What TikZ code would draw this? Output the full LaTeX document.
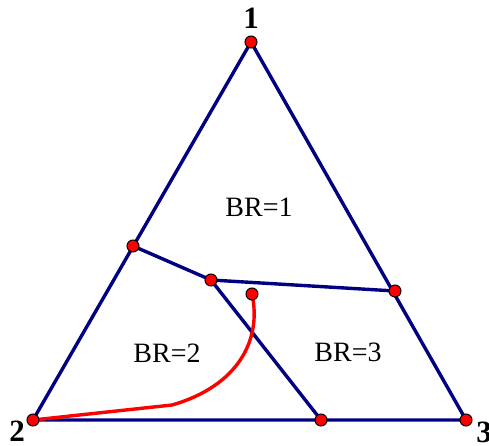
\documentclass[tikz,border=0pt]{standalone}
\usepackage{fontspec}
\setmainfont{Liberation Serif}
\begin{document}
\begin{tikzpicture}[x=1pt,y=-1pt,
  edge/.style={draw={rgb,255:red,0;green,0;blue,128},line width=3.4pt},
  redpath/.style={draw=red,line width=3.4pt},
  dot/.style={circle,fill=red,draw=black,line width=1pt,inner sep=0pt,minimum size=12pt},
  vlab/.style={font=\fontsize{31}{33}\selectfont\bfseries,inner sep=1pt},
  rlab/.style={font=\fontsize{28}{30}\selectfont}]
\useasboundingbox (0,0) rectangle (489,446);
\fill[white] (0,0) rectangle (489,446);
\coordinate (v1) at (251,42);
\coordinate (v2) at (33,420);
\coordinate (v3) at (466,420);
\coordinate (pl) at (133,246);
\coordinate (pi) at (211,280);
\coordinate (pr) at (395,291);
\coordinate (pb) at (321,420);
\coordinate (pe) at (252,294);
\coordinate (pk) at (172,405);
\path[edge] (v1) -- (v2) -- (v3) -- cycle;
\path[edge] (pl) -- (pi) -- (pr);
\path[edge] (pi) -- (pb);
\path[redpath] (v2) -- (pk) .. controls (238,386) and (262,340) .. (pe);
\foreach \p in {v1,v2,v3,pl,pi,pr,pb,pe} \node[dot] (d\p) at (\p) {};
\node[vlab] (l1) at (251,18) {1};
\node[vlab] (l2) at (17,431) {2};
\node[vlab] (l3) at (484,432) {3};
\node[rlab] (r1) at (259,207) {BR=1};
\node[rlab] (r2) at (167,353) {BR=2};
\node[rlab] (r3) at (348,352) {BR=3};
\end{tikzpicture}
\end{document}
